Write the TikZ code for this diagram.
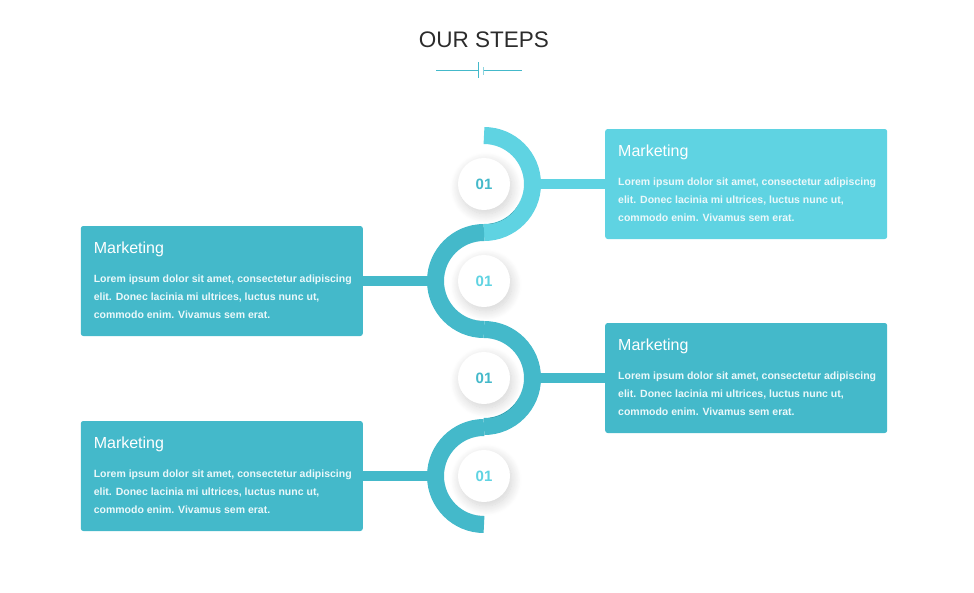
\documentclass[tikz,border=0pt]{standalone}
\usepackage{fontspec}
\setmainfont{Liberation Sans}
\usetikzlibrary{positioning,shadows.blur}
\definecolor{light}{HTML}{5FD3E2}
\definecolor{dark}{HTML}{44B9CA}
\definecolor{ink}{HTML}{2B2B2B}
\definecolor{paper}{HTML}{EAF8FA}
\tikzset{
  x=1pt,y=1pt,
  stepbox/.style={rounded corners=2.5pt,minimum width=282pt,minimum height=110pt,inner sep=0pt},
  lightbox/.style={stepbox,fill=light},
  darkbox/.style={stepbox,fill=dark},
  head/.style={anchor=base west,inner sep=0pt,text=white,font=\fontsize{16}{19}\selectfont},
  body/.style={anchor=base west,inner sep=0pt,text=paper,align=left,font=\fontsize{10.5}{18}\selectfont\bfseries},
  num/.style={circle,fill=white,minimum size=52pt,inner sep=0pt,font=\fontsize{15}{15}\selectfont\bfseries,
    blur shadow={shadow xshift=2pt,shadow yshift=-4pt,shadow blur radius=10pt,shadow blur steps=14,shadow opacity=18}},
  band/.style={line width=17pt},
  bar/.style={line width=10pt},
}
\newcommand{\lorem}{Lorem ipsum dolor sit amet, consectetur adipiscing\\elit. Donec lacinia mi ultrices, luctus nunc ut,\\commodo enim. Vivamus sem erat.}

\begin{document}
\begin{tikzpicture}
\useasboundingbox (0,0) rectangle (974,-592);

% title and separator
\node[text=ink,font=\fontsize{22.5}{22.5}\selectfont] (title) at (484,-40) {OUR STEPS};
\coordinate (sl) at (436,-70);
\coordinate (sr) at (522,-70);
\coordinate (ta) at (478,-70);
\coordinate (tb) at (483,-70);
\draw[dark,line width=0.8pt] (sl) -- (ta) (tb) -- (sr);
\draw[dark,line width=0.8pt] ([yshift=8pt]ta) -- ([yshift=-8pt]ta);
\draw[dark!60,line width=0.6pt] ([yshift=3pt]tb) -- ([yshift=-5pt]tb);

% step centres
\coordinate (c1) at (484,-184);
\coordinate (c2) at (484,-281);
\coordinate (c3) at (484,-378);
\coordinate (c4) at (484,-476);

% boxes
\node[lightbox,right=121pt of c1] (b1) {};
\node[darkbox,left=121pt of c2] (b2) {};
\node[darkbox,right=121pt of c3] (b3) {};
\node[darkbox,left=121pt of c4] (b4) {};

\node[head] at ([shift={(13,-28)}]b1.north west) {Marketing};
\node[body] at ([shift={(13,-93)}]b1.north west) {\lorem};
\node[head] at ([shift={(13,-28)}]b2.north west) {Marketing};
\node[body] at ([shift={(13,-93)}]b2.north west) {\lorem};
\node[head] at ([shift={(13,-28)}]b3.north west) {Marketing};
\node[body] at ([shift={(13,-93)}]b3.north west) {\lorem};
\node[head] at ([shift={(13,-28)}]b4.north west) {Marketing};
\node[body] at ([shift={(13,-93)}]b4.north west) {\lorem};

% connectors
\draw[bar,light] ([xshift=50pt]c1) -- (b1.west |- c1);
\draw[bar,dark] ([xshift=-50pt]c2) -- (b2.east |- c2);
\draw[bar,dark] ([xshift=50pt]c3) -- (b3.west |- c3);
\draw[bar,dark] ([xshift=-50pt]c4) -- (b4.east |- c4);

% winding band
\draw[band,light] ([yshift=48.5pt]c1) arc[start angle=90,end angle=-90,radius=48.5];
\draw[band,dark] ([yshift=48.5pt]c2) arc[start angle=90,end angle=270,radius=48.5];
\draw[band,dark] ([yshift=48.5pt]c3) arc[start angle=90,end angle=-90,radius=48.5];
\draw[band,dark] ([yshift=48.5pt]c4) arc[start angle=90,end angle=270,radius=48.5];

\node[num,text=dark] (n1) at (c1) {01};
\node[num,text=light] (n2) at (c2) {01};
\node[num,text=dark] (n3) at (c3) {01};
\node[num,text=light] (n4) at (c4) {01};

\end{tikzpicture}
\end{document}
